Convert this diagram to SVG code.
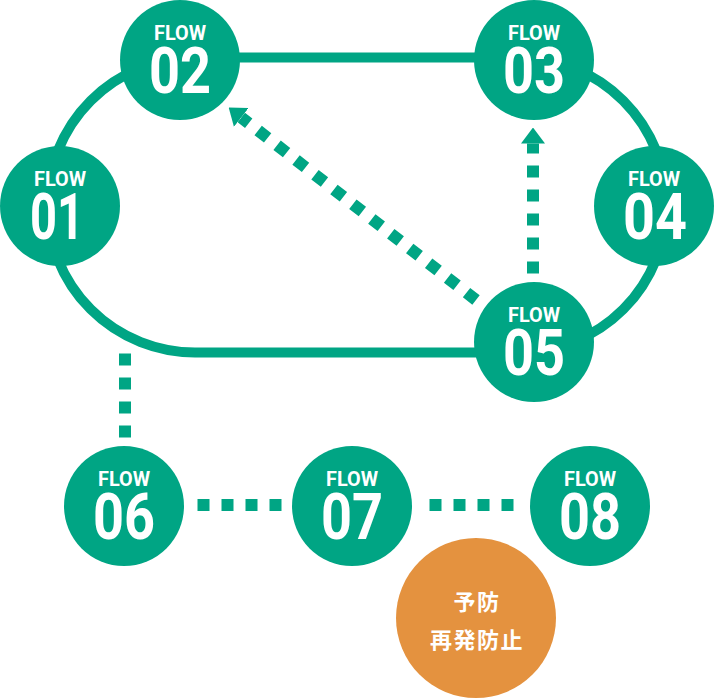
<svg xmlns="http://www.w3.org/2000/svg" width="714" height="698" viewBox="0 0 714 698">
<style>
.c{fill:#00A584}
.o{fill:#E4923F}
.lbl{fill:#fff;font-family:Roboto,"Liberation Sans",sans-serif;font-weight:700;font-size:19.5px;text-anchor:middle}
.num{fill:#fff;font-family:Roboto,"Liberation Sans",sans-serif;font-weight:700;font-size:64px;text-anchor:middle}
.jp{fill:#fff;font-family:"Noto Sans CJK JP","Noto Sans",sans-serif;font-weight:700;font-size:22px;text-anchor:middle;letter-spacing:1.5px}
.loop{fill:none;stroke:#00A584;stroke-width:10}
.dot{fill:none;stroke:#00A584;stroke-width:12;stroke-dasharray:12 12}
</style>
<defs>
<marker id="ah" viewBox="0 0 16 24" refX="0" refY="12" markerWidth="16" markerHeight="24" markerUnits="userSpaceOnUse" orient="auto">
<path d="M0,0 L16,12 L0,24 Z" fill="#00A584"/>
</marker>
</defs>
<g id="connectors">
<path class="loop" d="M195,57.5 H519 A147.5,147.5 0 0 1 519,352.5 H195 A147.5,147.5 0 0 1 195,57.5 Z"/>
<line class="dot" x1="533" y1="273.5" x2="533" y2="143.5" marker-end="url(#ah)"/>
<line class="dot" x1="476" y1="300" x2="241.3" y2="117.4" marker-end="url(#ah)"/>
<line class="dot" x1="125" y1="353.5" x2="125" y2="437.5"/>
<line class="dot" x1="197.5" y1="505" x2="281.5" y2="505"/>
<line class="dot" x1="429.5" y1="505" x2="513.5" y2="505"/>
</g>
<g id="flow01"><circle class="c" cx="60" cy="206" r="60"/><text class="lbl" x="60" y="186" textLength="52" lengthAdjust="spacingAndGlyphs">FLOW</text><text class="num" x="57" y="238.5" textLength="54" lengthAdjust="spacingAndGlyphs">01</text></g>
<g id="flow02"><circle class="c" cx="180" cy="60" r="60"/><text class="lbl" x="180" y="40" textLength="52" lengthAdjust="spacingAndGlyphs">FLOW</text><text class="num" x="180" y="92.5" textLength="62" lengthAdjust="spacingAndGlyphs">02</text></g>
<g id="flow03"><circle class="c" cx="534" cy="60" r="60"/><text class="lbl" x="534" y="40" textLength="52" lengthAdjust="spacingAndGlyphs">FLOW</text><text class="num" x="534" y="92.5" textLength="62" lengthAdjust="spacingAndGlyphs">03</text></g>
<g id="flow04"><circle class="c" cx="654" cy="206" r="60"/><text class="lbl" x="654" y="186" textLength="52" lengthAdjust="spacingAndGlyphs">FLOW</text><text class="num" x="655" y="238.5" textLength="64" lengthAdjust="spacingAndGlyphs">04</text></g>
<g id="flow05"><circle class="c" cx="534" cy="342" r="60"/><text class="lbl" x="534" y="322" textLength="52" lengthAdjust="spacingAndGlyphs">FLOW</text><text class="num" x="534" y="374.5" textLength="62" lengthAdjust="spacingAndGlyphs">05</text></g>
<g id="flow06"><circle class="c" cx="124" cy="506" r="60"/><text class="lbl" x="124" y="486" textLength="52" lengthAdjust="spacingAndGlyphs">FLOW</text><text class="num" x="124" y="538.5" textLength="62" lengthAdjust="spacingAndGlyphs">06</text></g>
<g id="flow07"><circle class="c" cx="352" cy="506" r="60"/><text class="lbl" x="352" y="486" textLength="52" lengthAdjust="spacingAndGlyphs">FLOW</text><text class="num" x="352" y="538.5" textLength="62" lengthAdjust="spacingAndGlyphs">07</text></g>
<g id="flow08"><circle class="c" cx="590" cy="506" r="60"/><text class="lbl" x="590" y="486" textLength="52" lengthAdjust="spacingAndGlyphs">FLOW</text><text class="num" x="590" y="538.5" textLength="62" lengthAdjust="spacingAndGlyphs">08</text></g>
<g id="prevention"><circle class="o" cx="476" cy="618" r="80"/><text class="jp" x="477" y="610">予防</text><text class="jp" x="477" y="648">再発防止</text></g>
</svg>
